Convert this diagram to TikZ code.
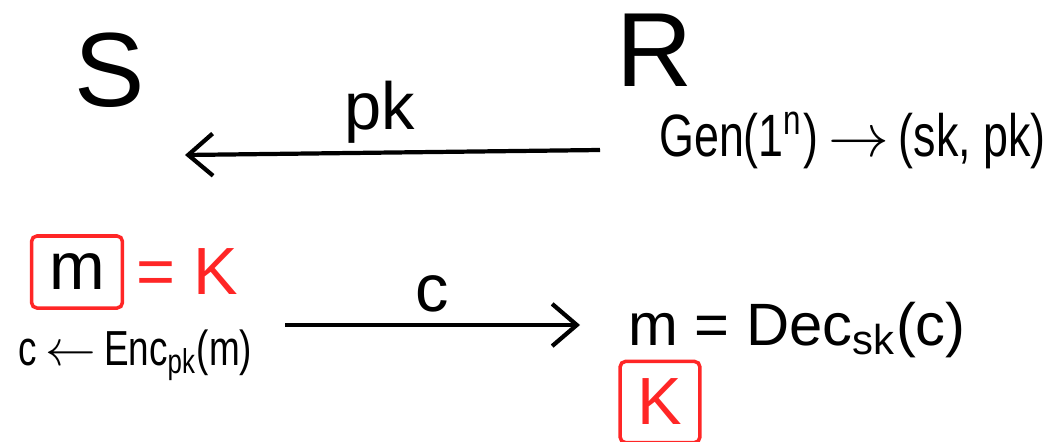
\documentclass[tikz,border=0pt]{standalone}
\usepackage{fontspec}
\setmainfont{Liberation Sans}
\newfontfamily\narrowfont[FakeStretch=0.75]{Liberation Sans}
\usetikzlibrary{positioning, arrows.meta}

\begin{document}
\begin{tikzpicture}[
  party/.style={font=\fontsize{30}{34}\selectfont, inner sep=0pt},
  txt/.style={font=\fontsize{19}{23}\selectfont, inner sep=1pt},
  narrow/.style={font=\narrowfont\fontsize{17}{21}\selectfont, inner sep=1pt},
  redtxt/.style={txt, text=red!85},
  keybox/.style={draw=red!85, line width=1pt, rounded corners=1.5pt, inner sep=5pt,
                 font=\fontsize{19}{23}\selectfont},
  arr/.style={-{Straight Barb[length=7pt, width=12pt]}, line width=1.2pt},
]
\useasboundingbox (0,0) rectangle (10.57,4.41);

% Parties
\node[party] (S) at (1.10,3.71) {S};
\node[party] (R) at (6.55,3.91) {R};

% Key generation at R
\node[narrow, anchor=east] (gen) at (10.50,3.01) {Gen(1\textsuperscript{n})$\,\rightarrow\,$(sk, pk)};

% pk sent to S
\coordinate (pkfrom) at (6.00,2.91);
\coordinate (pkto) at (1.85,2.86);
\draw[arr] (pkfrom) -- node[txt, above=1pt, pos=0.53] (pklbl) {pk} (pkto);

% Encryption at S
\node[keybox, minimum width=0.8cm, minimum height=0.72cm] (msg) at (0.77,1.69) {m};
\node[redtxt, right=0.08cm of msg] (eqk) {= K};
\node[narrow, anchor=west, font=\narrowfont\fontsize{14}{18}\selectfont] (enc) at (0.14,0.86)
  {c$\,\leftarrow\,$Enc\textsubscript{pk}(m)};

% c sent to R
\coordinate (cfrom) at (2.85,1.16);
\coordinate (cto) at (5.80,1.16);
\draw[arr] (cfrom) -- node[txt, above=2pt] (clbl) {c} (cto);

% Decryption at R
\node[txt, font=\fontsize{17}{21}\selectfont] (dec) at (7.97,1.11) {m = Dec\textsubscript{sk}(c)};
\node[keybox, text=red!85, minimum width=0.55cm, minimum height=0.62cm] (key) at (6.60,0.39) {K};

\end{tikzpicture}
\end{document}
